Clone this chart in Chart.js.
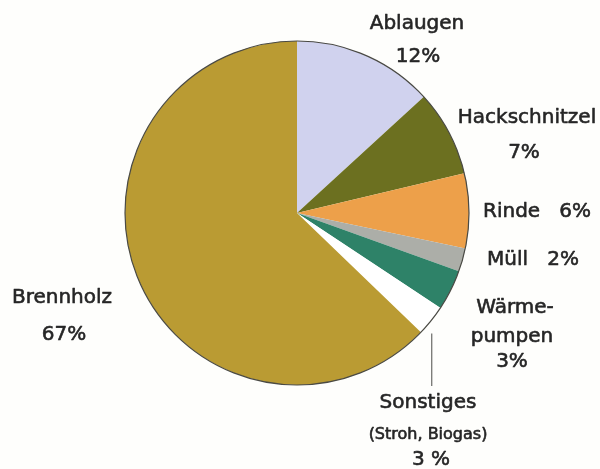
<!DOCTYPE html>
<html>
<head>
<meta charset="utf-8">
<script src="https://cdn.jsdelivr.net/npm/chart.js@4/dist/chart.umd.min.js"></script>
<style>
  html, body { margin: 0; padding: 0; background: #fefefc; }
  #wrap { width: 600px; height: 469px; position: relative; }
</style>
</head>
<body>
<div id="wrap"><canvas id="c" width="600" height="469"></canvas></div>
<script>
// Categories in drawing order (clockwise from 12 o'clock)
const categories = ["Ablaugen", "Hackschnitzel", "Rinde", "Müll", "Wärmepumpen", "Sonstiges", "Brennholz"];
// Slice sizes as drawn in the picture (percent)
const sliceValues = [13.2, 8.1, 7.0, 2.2, 3.8, 2.9, 62.8];
// Printed percentages
const printedPercent = ["12%", "7%", "6%", "2%", "3%", "3 %", "67%"];

const sliceColors = ["#d0d2ee", "#6c7020", "#eda04a", "#acaea8", "#2e8268", "#ffffff", "#ba9b33"];

// Label layout: lines of text with position relative to the pie centre
const labelLayout = [
  { lines: [["Ablaugen", 120, -189, 20], ["12%", 121, -156, 20]] },
  { lines: [["Hackschnitzel", 230, -95, 20], ["7%", 227, -60, 20]] },
  { lines: [["Rinde   6%", 240, -1, 20]] },
  { lines: [["Müll   2%", 236, 47, 20]] },
  { lines: [["Wärme-", 218, 95, 20], ["pumpen", 215, 124, 20], ["3%", 215, 149, 20]] },
  { lines: [["Sonstiges", 131, 190, 20], ["(Stroh, Biogas)", 131, 222, 16], ["3 %", 134, 247, 20]] },
  { lines: [["Brennholz", -235, 85, 20], ["67%", -233, 122, 20]] }
];

const outlinePlugin = {
  id: 'outline',
  afterDatasetsDraw(chart) {
    const ctx = chart.ctx;
    const arcs = chart.getDatasetMeta(0).data;
    const a0 = arcs[0];
    const cx = a0.x, cy = a0.y, r = a0.outerRadius;
    ctx.save();
    ctx.beginPath();
    ctx.arc(cx, cy, r, 0, Math.PI * 2);
    ctx.strokeStyle = "#4a4a44";
    ctx.lineWidth = 1.2;
    ctx.stroke();

    // leader line for "Sonstiges"
    const s = arcs[5];
    const mid = (s.startAngle + s.endAngle) / 2;
    const ex = cx + r * Math.cos(mid);
    const ey = cy + r * Math.sin(mid);
    ctx.beginPath();
    ctx.moveTo(ex + 0.5, ey + 13);
    ctx.lineTo(ex + 0.5, cy + 173);
    ctx.strokeStyle = "#6a6a66";
    ctx.lineWidth = 1.2;
    ctx.stroke();

    // labels
    ctx.fillStyle = "#262626";
    ctx.strokeStyle = "#262626";
    ctx.lineWidth = 0.6;
    ctx.lineJoin = "round";
    ctx.textAlign = "center";
    ctx.textBaseline = "middle";
    labelLayout.forEach(l => {
      l.lines.forEach(([txt, dx, dy, size]) => {
        ctx.font = size + "px 'DejaVu Sans'";
        ctx.fillText(txt, cx + dx, cy + dy);
        ctx.strokeText(txt, cx + dx, cy + dy);
      });
    });
    ctx.restore();
  }
};

new Chart(document.getElementById('c'), {
  type: 'pie',
  data: {
    labels: categories,
    datasets: [{
      data: sliceValues,
      backgroundColor: sliceColors,
      borderWidth: 0
    }]
  },
  options: {
    responsive: false,
    animation: false,
    layout: { padding: { left: 125, right: 131, top: 41, bottom: 84 } },
    plugins: {
      legend: { display: false },
      tooltip: { enabled: false }
    }
  },
  plugins: [outlinePlugin]
});
</script>
</body>
</html>
